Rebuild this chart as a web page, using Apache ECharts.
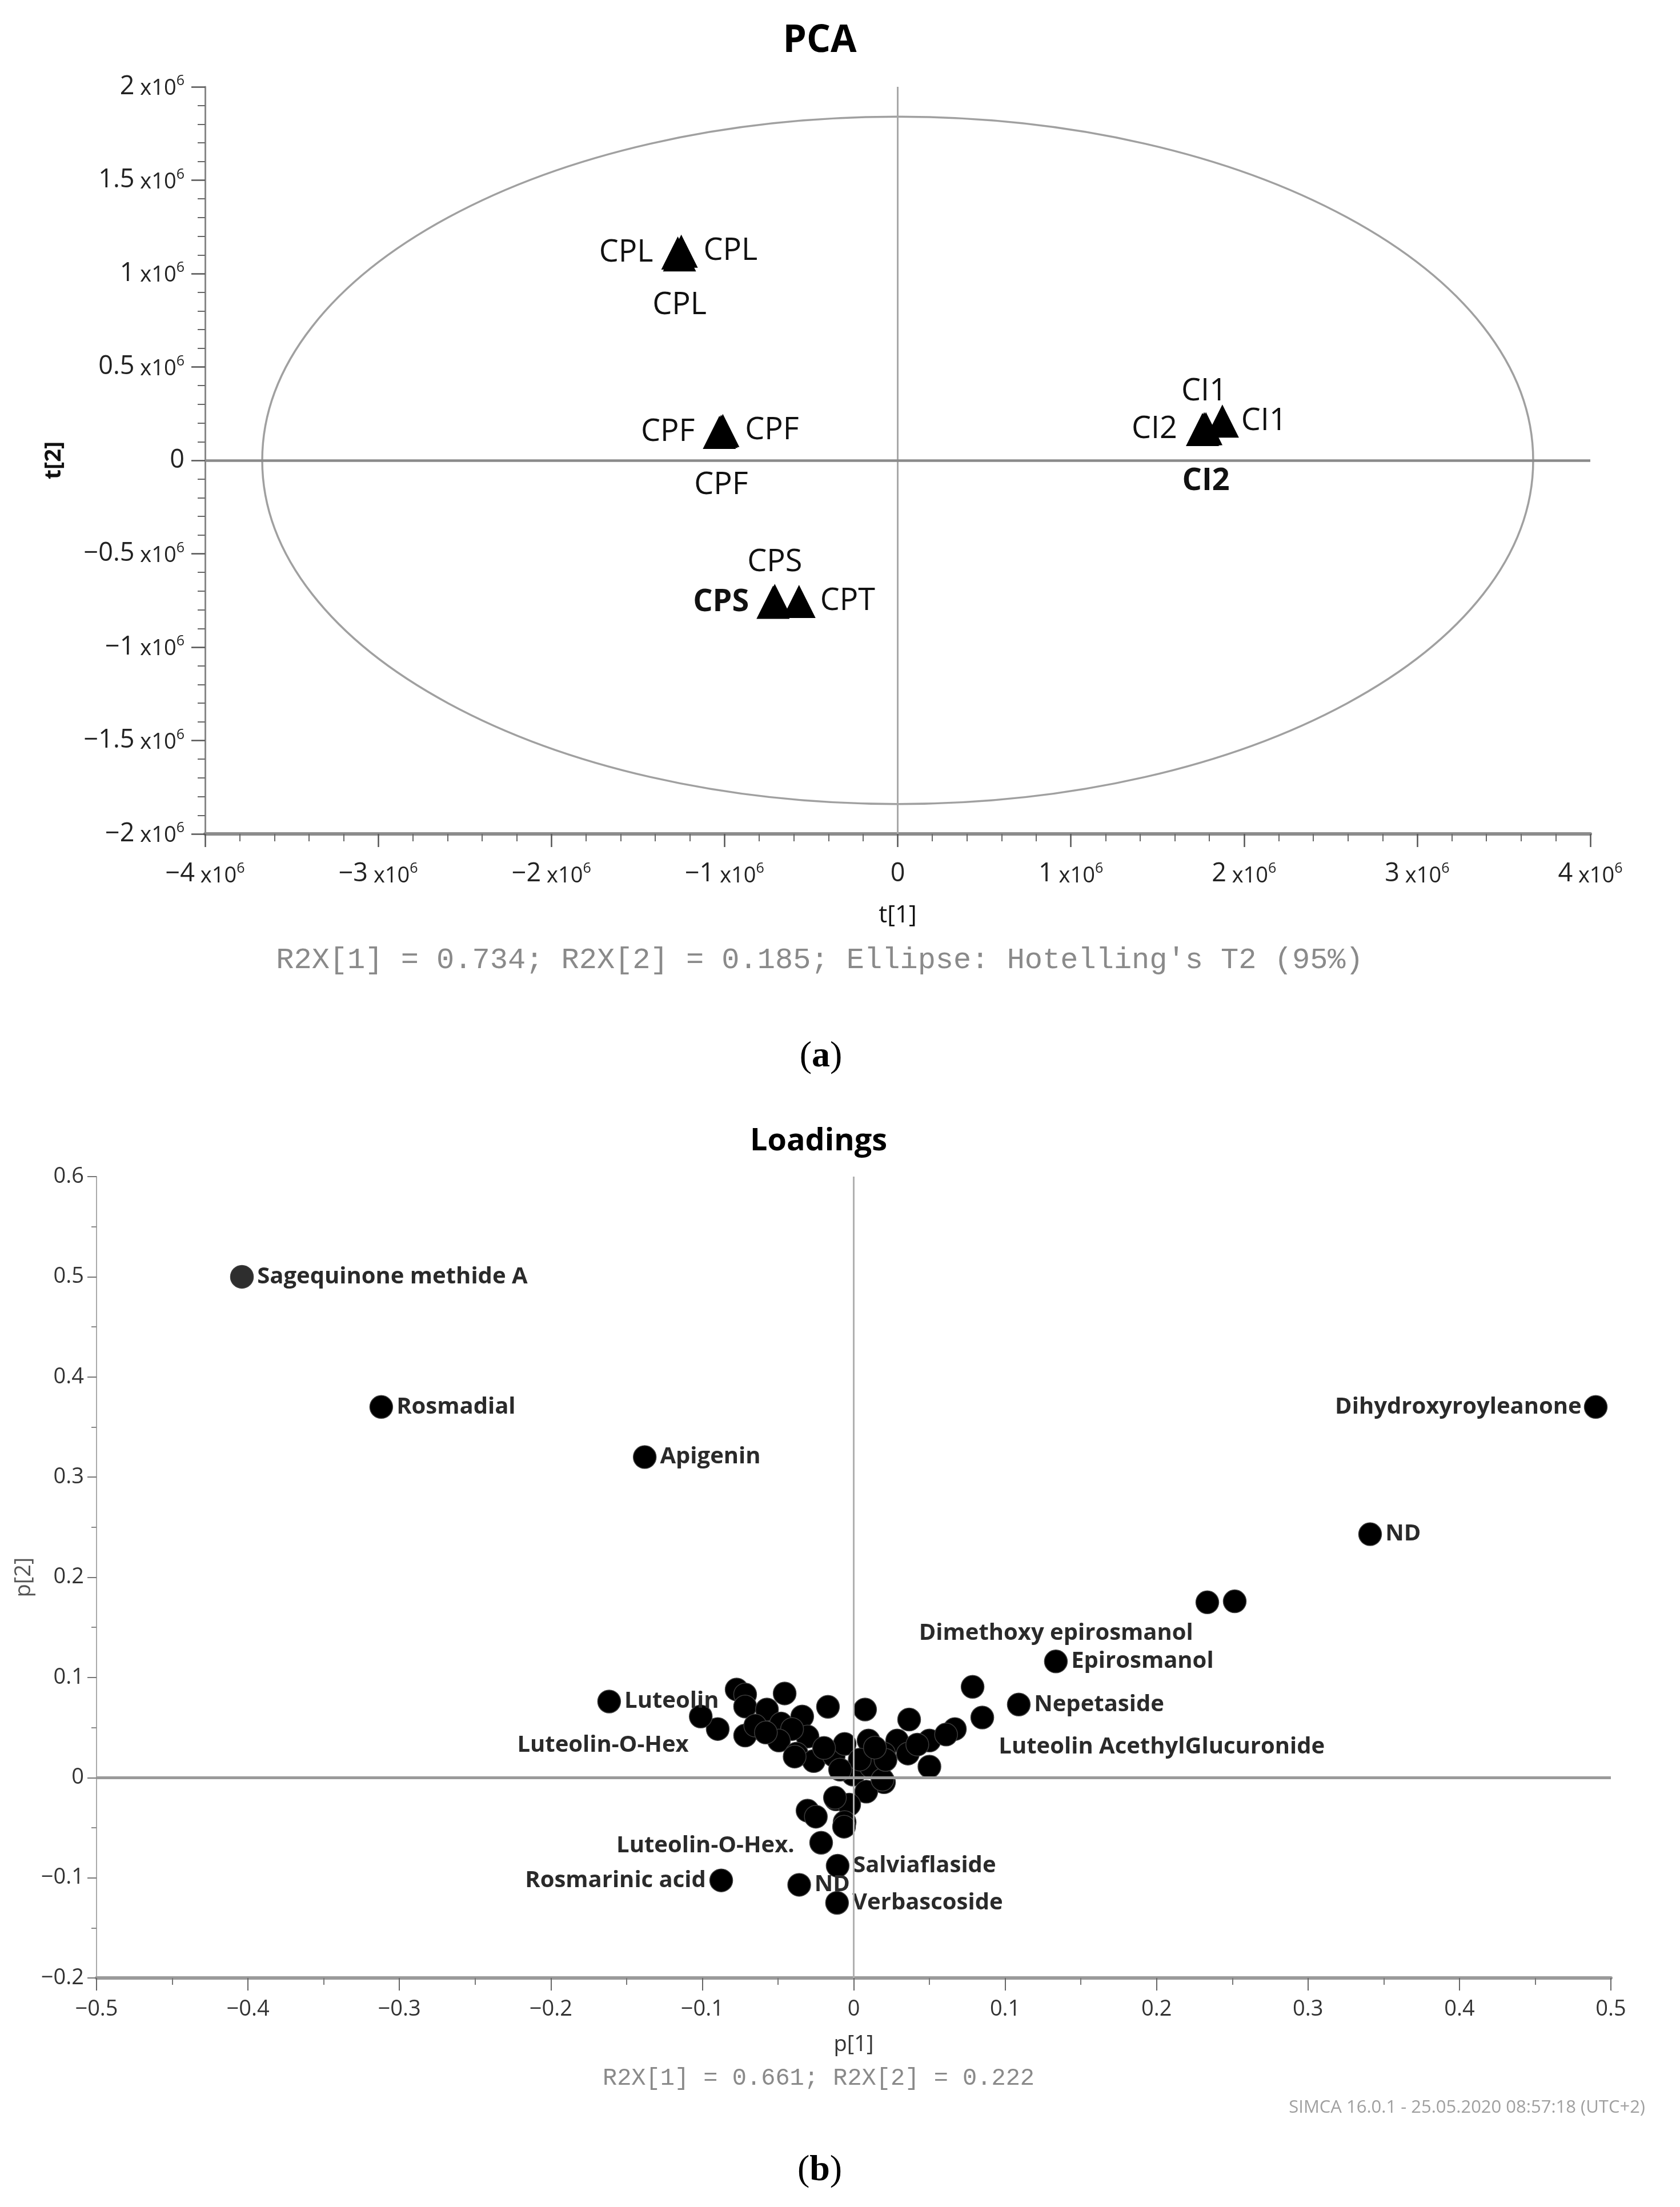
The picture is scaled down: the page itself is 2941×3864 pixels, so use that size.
<!DOCTYPE html>
<html>
<head>
<meta charset="utf-8">
<script src="https://cdn.jsdelivr.net/npm/echarts/dist/echarts.min.js"></script>
<style>
  html, body { margin: 0; padding: 0; background: #fff; }
  #chart { width: 2941px; height: 3864px; }
</style>
</head>
<body>
<div id="chart"></div>
<script>
// ---- (a) PCA score plot ----
const pcaNames = ['CPL', 'CPL', 'CPL', 'CPF', 'CPF', 'CPF', 'CPS', 'CPS', 'CPT', 'CI1', 'CI2', 'CI1', 'CI2'];
const pcaT1 = [-1.27e6, -1.25e6, -1.26e6, -1.03e6, -1.01e6, -1.02e6, -0.71e6, -0.72e6, -0.57e6, 1.77e6, 1.76e6, 1.875e6, 1.78e6];
const pcaT2 = [1.11e6, 1.12e6, 1.10e6, 0.15e6, 0.16e6, 0.155e6, -0.75e6, -0.76e6, -0.755e6, 0.17e6, 0.165e6, 0.21e6, 0.17e6];
// Hotelling's T2 (95%) ellipse half-axes
const ellipseT1 = 3.67e6;
const ellipseT2 = 1.84e6;

// ---- (b) Loadings plot ----
const loadNames = [
  'Sagequinone methide A', 'Rosmadial', 'Apigenin', 'Dihydroxyroyleanone', 'ND',
  'Dimethoxy epirosmanol', '', 'Epirosmanol', 'Nepetaside', '',
  'Luteolin AcethylGlucuronide', 'Luteolin', 'Luteolin-O-Hex', 'Luteolin-O-Hex.', 'Rosmarinic acid',
  'ND', 'Salviaflaside', 'Verbascoside',
  '', '', '', '', '', '', '', '', '', '',
  '', '', '', '', '', '', '', '', '', '',
  '', '', '', '', '', '', '', '', '', '',
  '', '', '', '', '', '', '', '', '', '',
  '', '', '', '', '', '', '', ''
];
const loadP1 = [
  -0.404, -0.312, -0.138, 0.490, 0.341,
  0.2335, 0.2516, 0.1335, 0.109, 0.0785,
  0.0849, -0.1615, -0.0898, -0.0215, -0.0875,
  -0.036, -0.0106, -0.011,
  -0.0773, -0.0717, -0.0717, -0.0456, -0.101, -0.0717, -0.0573, -0.065, -0.048, -0.034,
  -0.017, 0.0075, 0.0366, 0.0668, 0.050, 0.050, 0.0287, 0.0098, -0.0305, -0.0407,
  -0.0494, -0.0377, -0.0264, -0.0132, -0.006, -0.0004, 0.0113, 0.020, 0.020, 0.0083,
  -0.0117, -0.003, -0.0305, -0.025, -0.006, -0.0064, -0.0124, 0.019, 0.0358, 0.021,
  0.061, -0.0196, -0.039, 0.004, -0.009, 0.014, 0.042, -0.058
];
const loadP2 = [
  0.500, 0.370, 0.320, 0.370, 0.243,
  0.175, 0.176, 0.116, 0.073, 0.0906,
  0.060, 0.076, 0.0485, -0.065, -0.1026,
  -0.107, -0.088, -0.125,
  0.088, 0.083, 0.071, 0.084, 0.061, 0.042, 0.068, 0.052, 0.054, 0.061,
  0.0707, 0.068, 0.058, 0.0485, 0.037, 0.011, 0.037, 0.037, 0.041, 0.0485,
  0.037, 0.024, 0.0165, 0.022, 0.0336, 0.003, 0.011, 0.024, -0.0046, -0.014,
  -0.0217, -0.027, -0.033, -0.039, -0.0445, -0.049, -0.020, -0.002, 0.024, 0.0177,
  0.043, 0.0296, 0.021, 0.018, 0.008, 0.030, 0.033, 0.045
];

const FONT = 'Open Sans';

function fmtMillion(v) {
  if (v === 0) return '{n|0}';
  const m = v / 1e6;
  return '{n|' + String(m).replace('-', '\u2212') + '}{x| x10}{s|6}';
}
function fmtLoad(v) {
  if (Math.abs(v) < 1e-9) return '0';
  return v.toFixed(1).replace('-', '\u2212');
}

// label placement for the score plot (by point index)
const pcaPlace = [
  { position: 'left', distance: 14 },
  { position: 'right', distance: 10 },
  { position: 'bottom', distance: 32 },
  { position: 'left', distance: 14 },
  { position: 'right', distance: 10 },
  { position: 'bottom', distance: 38 },
  { position: 'top', distance: 11 },
  { position: 'left', distance: 13, fontWeight: 'bold' },
  { position: 'right', distance: 8 },
  { position: 'top', distance: 9 },
  { position: 'left', distance: 15 },
  { position: 'right', distance: 4 },
  { position: 'bottom', distance: 36, fontWeight: 'bold' }
];

// label placement overrides for the loadings plot (by point index)
const loadPlace = {
  3: { position: 'left', distance: 4 },
  5: { position: 'left', distance: 4, offset: [0, 54] },
  10: { position: 'right', distance: 8, offset: [0, 52] },
  12: { position: 'left', distance: 4, offset: [-26, 28] },
  13: { position: 'left', distance: 4, offset: [-22, 5] },
  14: { position: 'left', distance: 6 }
};

const pcaData = pcaT1.map((x, i) => ({
  value: [x, pcaT2[i]],
  name: pcaNames[i],
  label: Object.assign({ show: true }, pcaPlace[i])
}));

const loadData = loadP1.map((x, i) => {
  const d = { value: [x, loadP2[i]], name: loadNames[i] };
  if (loadNames[i]) {
    d.label = Object.assign({ show: true, position: 'right', distance: 6 }, loadPlace[i] || {});
  }
  if (i === 0) d.itemStyle = { color: '#2e2e2e' };
  return d;
});

const millionRich = {
  n: { fontFamily: FONT, fontSize: 45, color: '#222', verticalAlign: 'bottom' },
  x: { fontFamily: FONT, fontSize: 38, color: '#222', verticalAlign: 'bottom' },
  s: { fontFamily: FONT, fontSize: 25, color: '#222', verticalAlign: 'top' }
};

const chart = echarts.init(document.getElementById('chart'), null, { renderer: 'canvas' });

const option = {
  animation: false,
  backgroundColor: '#fff',
  grid: [
    { left: 359, top: 152, width: 2425, height: 1308 },
    { left: 169, top: 2060, width: 2651, height: 1403 }
  ],
  xAxis: [
    {
      gridIndex: 0, type: 'value', min: -4e6, max: 4e6, interval: 1e6,
      name: 't[1]', nameLocation: 'middle', nameGap: 122,
      nameTextStyle: { fontFamily: FONT, fontSize: 42, color: '#111' },
      axisLine: { onZero: false, lineStyle: { color: '#8c8c8c', width: 6 } },
      axisTick: { show: true, length: 23, lineStyle: { color: '#555', width: 2.5 } },
      minorTick: { show: true, splitNumber: 5, length: 13, lineStyle: { color: '#666', width: 2 } },
      splitLine: { show: false },
      axisLabel: { margin: 48, formatter: fmtMillion, rich: millionRich }
    },
    {
      gridIndex: 1, type: 'value', min: -0.5, max: 0.5, interval: 0.1,
      name: 'p[1]', nameLocation: 'middle', nameGap: 98,
      nameTextStyle: { fontFamily: FONT, fontSize: 38, color: '#333' },
      axisLine: { onZero: false, lineStyle: { color: '#9a9a9a', width: 6 } },
      axisTick: { show: true, length: 22, lineStyle: { color: '#666', width: 2 } },
      minorTick: { show: true, splitNumber: 2, length: 12, lineStyle: { color: '#777', width: 2 } },
      splitLine: { show: false },
      axisLabel: { margin: 36, formatter: fmtLoad, fontFamily: FONT, fontSize: 38, color: '#333' }
    }
  ],
  yAxis: [
    {
      gridIndex: 0, type: 'value', min: -2e6, max: 2e6, interval: 0.5e6,
      name: 't[2]', nameLocation: 'middle', nameGap: 244,
      nameTextStyle: { fontFamily: FONT, fontSize: 40, fontWeight: 'bold', color: '#111' },
      axisLine: { show: true, onZero: false, lineStyle: { color: '#888', width: 3 } },
      axisTick: { show: true, length: 24, lineStyle: { color: '#555', width: 2.5 } },
      minorTick: { show: true, splitNumber: 5, length: 13, lineStyle: { color: '#666', width: 2 } },
      splitLine: { show: false },
      axisLabel: { margin: 36, formatter: fmtMillion, rich: millionRich }
    },
    {
      gridIndex: 1, type: 'value', min: -0.2, max: 0.6, interval: 0.1,
      name: 'p[2]', nameLocation: 'middle', nameGap: 98,
      nameTextStyle: { fontFamily: FONT, fontSize: 38, color: '#555' },
      axisLine: { show: true, onZero: false, lineStyle: { color: '#aaa', width: 2 } },
      axisTick: { show: true, length: 16, lineStyle: { color: '#777', width: 2 } },
      minorTick: { show: true, splitNumber: 2, length: 9, lineStyle: { color: '#888', width: 2 } },
      splitLine: { show: false },
      axisLabel: { margin: 22, formatter: fmtLoad, fontFamily: FONT, fontSize: 38, color: '#333' }
    }
  ],
  series: [
    {
      // T2 ellipse
      type: 'custom',
      xAxisIndex: 0, yAxisIndex: 0,
      silent: true, z: 1,
      data: [[0, 0]],
      renderItem: function (params, api) {
        const c = api.coord([api.value(0), api.value(1)]);
        const s = api.size([ellipseT1, ellipseT2]);
        return {
          type: 'ellipse',
          shape: { cx: c[0], cy: c[1], rx: s[0], ry: s[1] },
          style: { fill: 'none', stroke: '#a0a0a0', lineWidth: 3.5 }
        };
      }
    },
    {
      type: 'scatter',
      xAxisIndex: 0, yAxisIndex: 0,
      symbol: 'triangle', symbolSize: 58, z: 3,
      itemStyle: { color: '#000', opacity: 1 },
      label: {
        show: true, formatter: '{b}',
        fontFamily: FONT, fontSize: 54, color: '#111'
      },
      data: pcaData,
      markLine: {
        silent: true, symbol: 'none', label: { show: false },
        data: [
          { xAxis: 0, lineStyle: { color: '#a8a8a8', width: 3, type: 'solid' } },
          { yAxis: 0, lineStyle: { color: '#8a8a8a', width: 4.5, type: 'solid' } }
        ]
      }
    },
    {
      type: 'scatter',
      xAxisIndex: 1, yAxisIndex: 1,
      symbol: 'circle', symbolSize: 40, z: 3,
      itemStyle: { color: '#000', borderColor: '#3c3c3c', borderWidth: 1.5, opacity: 1 },
      label: {
        show: false, formatter: '{b}',
        fontFamily: FONT, fontSize: 40, fontWeight: 'bold', color: '#2a2a2a'
      },
      data: loadData,
      markLine: {
        silent: true, symbol: 'none', label: { show: false },
        data: [
          { xAxis: 0, lineStyle: { color: '#b0b0b0', width: 3, type: 'solid' } },
          { yAxis: 0, lineStyle: { color: '#9a9a9a', width: 5, type: 'solid' } }
        ]
      }
    }
  ],
  graphic: [
    { type: 'text', x: 1435, y: 72, style: { text: 'PCA', font: 'bold 66px "Open Sans"', fill: '#000', textAlign: 'center', textVerticalAlign: 'middle', verticalAlign: 'middle' } },
    { type: 'text', x: 1435, y: 1681, style: { text: "R2X[1] = 0.734; R2X[2] = 0.185; Ellipse: Hotelling's T2 (95%)", font: '52px "Liberation Mono"', fill: '#8a8a8a', textAlign: 'center', textVerticalAlign: 'middle', verticalAlign: 'middle' } },
    { type: 'text', x: 1437, y: 1850, style: { text: '{p|(}{b|a}{p|)}', textAlign: 'center', textVerticalAlign: 'middle', verticalAlign: 'middle', rich: { p: { font: '64px "Liberation Serif"', fill: '#000' }, b: { font: 'bold 64px "Liberation Serif"', fill: '#000' } } } },
    { type: 'text', x: 1433, y: 1999, style: { text: 'Loadings', font: 'bold 54px "Open Sans"', fill: '#000', textAlign: 'center', textVerticalAlign: 'middle', verticalAlign: 'middle' } },
    { type: 'text', x: 1433, y: 3639, style: { text: 'R2X[1] = 0.661; R2X[2] = 0.222', font: '42px "Liberation Mono"', fill: '#8a8a8a', textAlign: 'center', textVerticalAlign: 'middle', verticalAlign: 'middle' } },
    { type: 'text', x: 2880, y: 3690, style: { text: 'SIMCA 16.0.1 - 25.05.2020 08:57:18 (UTC+2)', font: '31px "Open Sans"', fill: '#a0a0a0', textAlign: 'right', textVerticalAlign: 'middle', verticalAlign: 'middle' } },
    { type: 'text', x: 1435, y: 3800, style: { text: '{p|(}{b|b}{p|)}', textAlign: 'center', textVerticalAlign: 'middle', verticalAlign: 'middle', rich: { p: { font: '64px "Liberation Serif"', fill: '#000' }, b: { font: 'bold 64px "Liberation Serif"', fill: '#000' } } } }
  ]
};

chart.setOption(option);
</script>
</body>
</html>
